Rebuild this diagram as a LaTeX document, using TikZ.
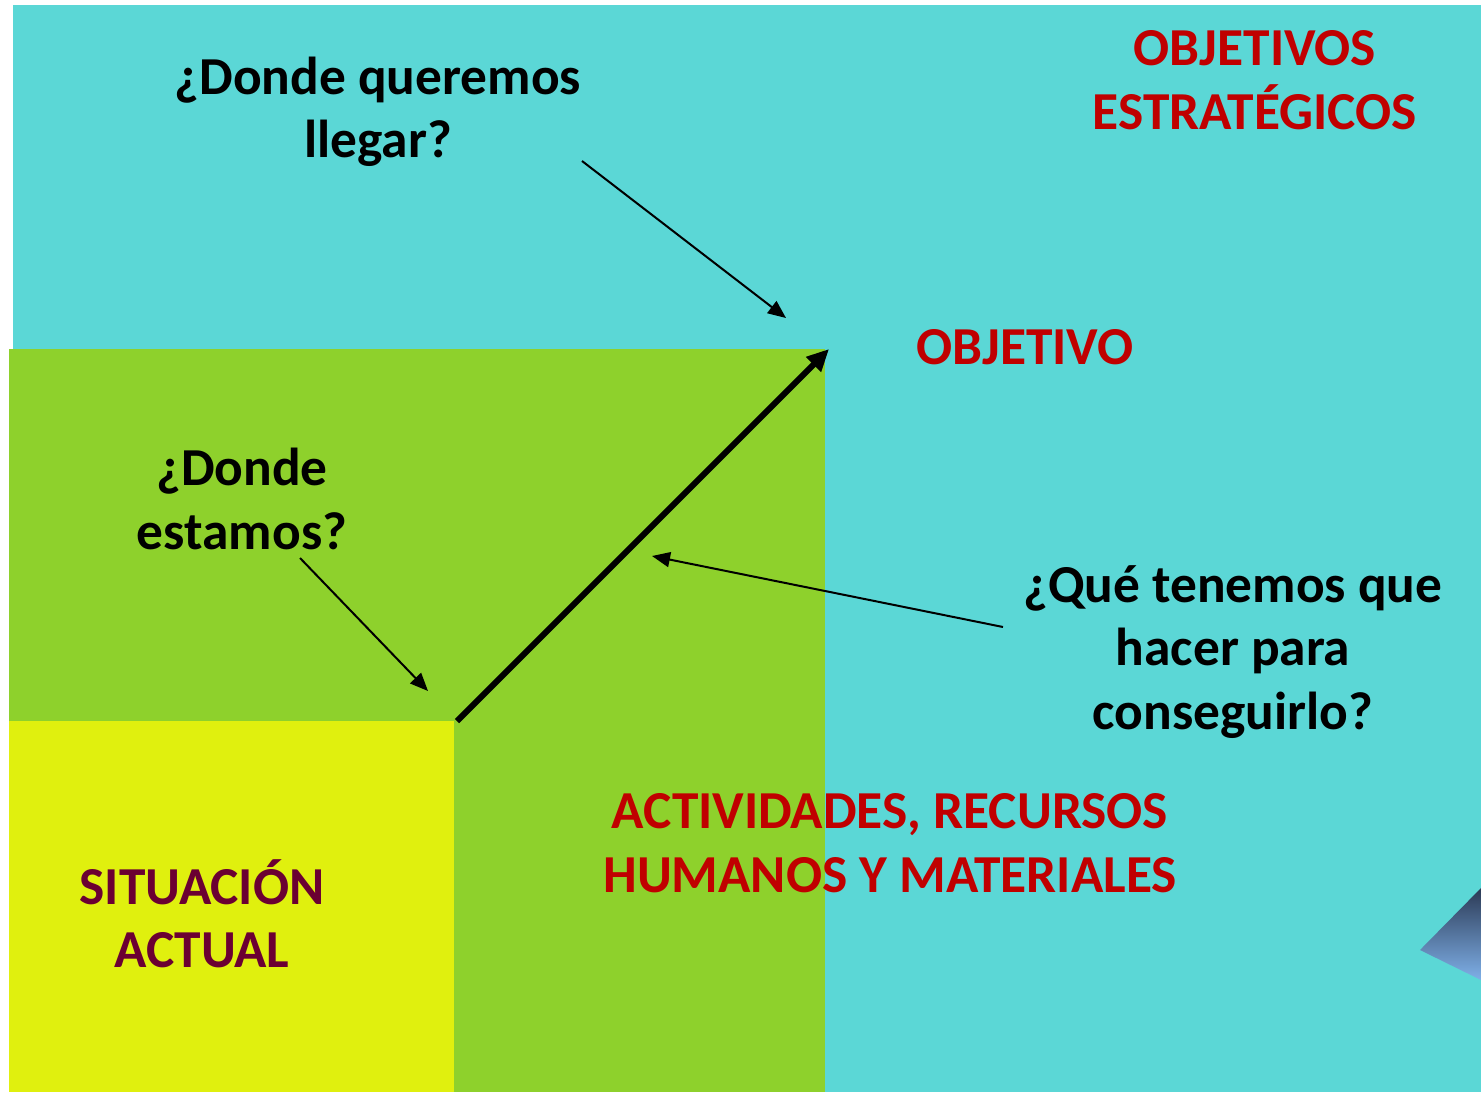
\documentclass[tikz,border=0pt]{standalone}
\usepackage{fontspec}
\setmainfont{Carlito}
\usetikzlibrary{arrows.meta}
\definecolor{bgcyan}{HTML}{5BD7D6}
\definecolor{bggreen}{HTML}{8ED12C}
\definecolor{bgyellow}{HTML}{E0F00E}
\definecolor{txtred}{HTML}{C00000}
\definecolor{txtmaroon}{HTML}{6B0032}
\definecolor{tridark}{HTML}{2B3A55}
\definecolor{trilight}{HTML}{7FB0E8}
\tikzset{
  lbl/.style={align=center, inner sep=0pt, font=\fontsize{26.7}{31.75}\selectfont\bfseries},
  thinarrow/.style={line width=1pt, -{Triangle[length=9pt,width=7.5pt]}},
  thickarrow/.style={line width=3pt, -{Triangle[length=11pt,width=10pt]}},
}
\begin{document}
\begin{tikzpicture}[x=0.5pt,y=-0.5pt]
\useasboundingbox (0,0) rectangle (1481,1092);
\fill[white] (0,0) rectangle (1481,1092);
\fill[bgcyan] (13,5) rectangle (1481,1092);
\fill[bggreen] (9,349) rectangle (825,1092);
\fill[bgyellow] (9,721) rectangle (454,1092);
\shade[top color=tridark, bottom color=trilight] (1420,950) -- (1481,888) -- (1481,980) -- cycle;

\node[lbl] (q1) at (378,112) {¿Donde queremos\\llegar?};
\node[lbl, text=txtred] (oe) at (1255,80) {OBJETIVOS\\ESTRATÉGICOS};
\node[lbl, text=txtred] (obj) at (1025,347) {OBJETIVO};
\node[lbl] (q2) at (242,499) {¿Donde\\estamos?};
\node[lbl] (q3) at (1233,652) {¿Qué tenemos que\\hacer para\\conseguirlo?};
\node[lbl, text=txtred] (act) at (890,843) {ACTIVIDADES, RECURSOS\\HUMANOS Y MATERIALES};
\node[lbl, text=txtmaroon] (sit) at (202,914) {SITUACIÓN\\ACTUAL};

\coordinate (s1) at (582,161);
\coordinate (e1) at (786,318);
\coordinate (s2) at (300,558);
\coordinate (e2) at (428,691);
\coordinate (s3) at (1003,627);
\coordinate (e3) at (652,556);
\coordinate (s0) at (457,721);
\coordinate (e0) at (829,349);

\draw[thickarrow] (s0) -- (e0);
\draw[thinarrow] (s1) -- (e1);
\draw[thinarrow] (s2) -- (e2);
\draw[thinarrow] (s3) -- (e3);
\end{tikzpicture}
\end{document}
